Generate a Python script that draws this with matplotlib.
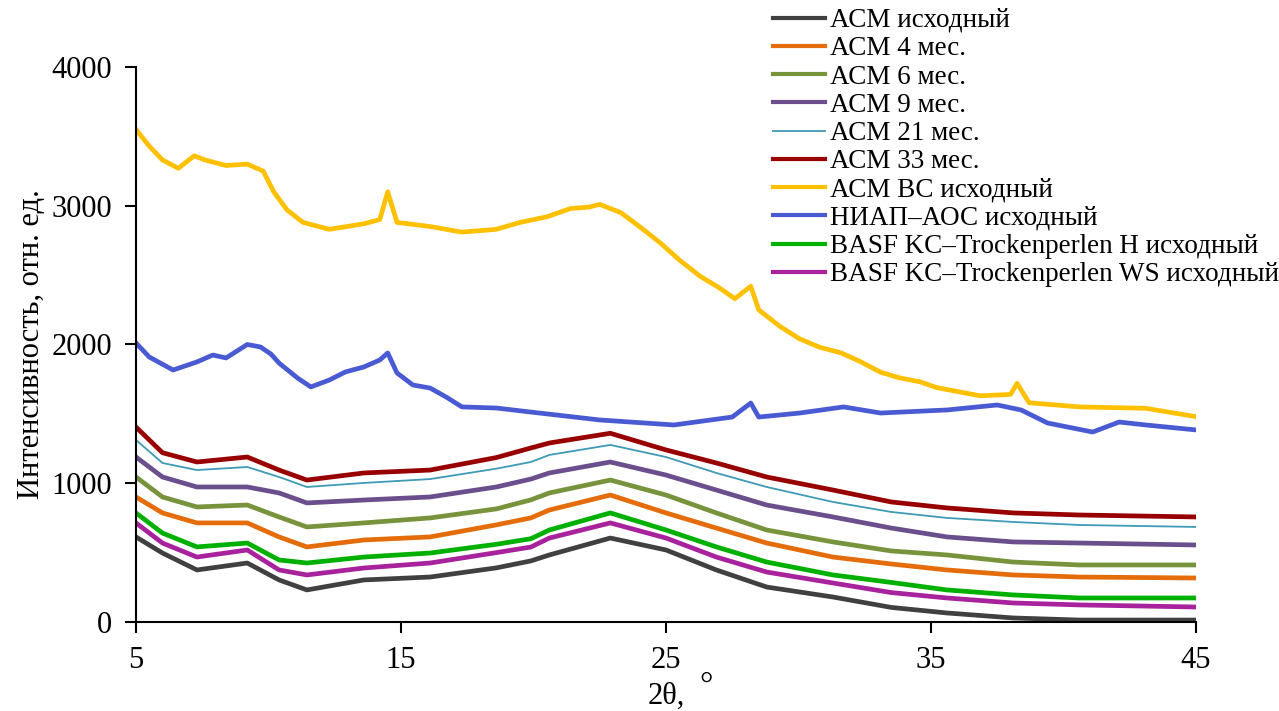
import numpy as np
import matplotlib
matplotlib.use("Agg")
import matplotlib.pyplot as plt

# fonts
plt.rcParams['font.family'] = ['Liberation Serif', 'DejaVu Serif']

# data
# common 2theta grid for the lower series
x_low = [5.0, 6.0, 7.3, 9.2, 10.4, 11.45, 13.6, 16.1, 18.6, 19.9, 20.6,
         22.9, 25.0, 26.9, 28.8, 31.3, 33.5, 35.6, 38.1, 40.6, 45.0]

acm_0 = [613, 497, 375, 425, 303, 231, 303, 324, 390, 440, 483,
         605, 519, 375, 252, 180, 105, 65, 29, 14, 14]
acm_4 = [901, 786, 714, 714, 613, 541, 591, 613, 700, 750, 807,
         915, 786, 677, 569, 468, 418, 375, 339, 324, 317]
acm_6 = [1045, 901, 829, 843, 757, 685, 714, 750, 815, 880, 930,
         1023, 915, 786, 663, 577, 512, 483, 432, 411, 411]
acm_9 = [1189, 1045, 973, 973, 930, 858, 879, 901, 973, 1030, 1074,
         1153, 1059, 951, 843, 757, 677, 613, 577, 569, 555]
acm_21 = [1312, 1146, 1095, 1117, 1045, 973, 1002, 1030, 1105, 1153, 1204,
          1276, 1189, 1074, 973, 865, 793, 750, 721, 699, 685]
acm_33 = [1405, 1220, 1153, 1189, 1095, 1023, 1074, 1095, 1185, 1254, 1290,
          1360, 1240, 1146, 1045, 951, 865, 822, 786, 771, 757]
basf_h = [786, 641, 541, 569, 447, 425, 468, 497, 560, 600, 663,
          786, 663, 541, 432, 339, 285, 231, 195, 173, 173]
basf_ws = [714, 569, 468, 519, 375, 339, 389, 425, 500, 540, 605,
           714, 605, 468, 360, 281, 212, 173, 137, 123, 108]

# ACM BC
x_bc = [5.0, 5.5, 6.0, 6.6, 7.2, 7.6, 8.4, 9.2, 9.8, 10.2, 10.7, 11.3, 12.3,
        13.6, 14.2, 14.5, 14.85, 16.1, 17.3, 18.6, 19.5, 20.5, 21.4, 22.1,
        22.5, 23.3, 24.0, 24.8, 25.5, 26.3, 27.0, 27.6, 28.2, 28.5, 29.3,
        30.05, 30.8, 31.6, 32.3, 33.1, 33.8, 34.6, 35.2, 36.85, 38.0, 38.25,
        38.7, 40.6, 43.1, 45.0]
acm_bc = [3550, 3430, 3330, 3270, 3360, 3330, 3290, 3300, 3250, 3100, 2970,
          2880, 2830, 2870, 2900, 3100, 2880, 2850, 2810, 2830, 2880, 2920,
          2980, 2990, 3010, 2950, 2850, 2730, 2610, 2490, 2410, 2330, 2420,
          2250, 2130, 2040, 1980, 1940, 1880, 1800, 1760, 1730, 1690, 1630,
          1640, 1720, 1580, 1550, 1540, 1480]

# NIAP-AOC
x_niap = [5.0, 5.5, 6.4, 7.3, 7.9, 8.4, 9.2, 9.7, 10.1, 10.4, 11.1, 11.6,
          12.3, 12.9, 13.6, 14.2, 14.5, 14.85, 15.45, 16.1, 16.7, 17.3, 18.6,
          19.9, 22.5, 25.3, 27.5, 28.2, 28.5, 30.05, 31.7, 33.1, 35.6, 37.5,
          38.4, 39.4, 41.1, 42.1, 43.1, 45.0]
niap = [2011, 1910, 1816, 1874, 1924, 1903, 2000, 1982, 1930, 1866, 1758,
        1694, 1744, 1802, 1838, 1888, 1939, 1795, 1708, 1686, 1622, 1550,
        1542, 1513, 1456, 1420, 1477, 1578, 1477, 1506, 1550, 1506, 1528,
        1564, 1528, 1434, 1369, 1441, 1420, 1384]

# series list: (x, y, label, color, width)
series = [
    (x_low, acm_0, 'АСМ исходный', '#404040', 3.4),
    (x_low, acm_4, 'АСМ 4 мес.', '#E46C0A', 3.4),
    (x_low, acm_6, 'АСМ 6 мес.', '#77933C', 3.4),
    (x_low, acm_9, 'АСМ 9 мес.', '#6A4F8C', 3.4),
    (x_low, acm_21, 'АСМ 21 мес.', '#3F9AB5', 1.3),
    (x_low, acm_33, 'АСМ 33 мес.', '#980000', 3.4),
    (x_bc, acm_bc, 'АСМ ВС исходный', '#FFC000', 3.4),
    (x_niap, niap, 'НИАП–АОС исходный', '#4A5AD2', 3.4),
    (x_low, basf_h, 'BASF KC–Trockenperlen H исходный', '#00B000', 3.4),
    (x_low, basf_ws, 'BASF KC–Trockenperlen WS исходный', '#A8229E', 3.4),
]

# figure
fig = plt.figure(figsize=(12.79, 7.11), dpi=100)
ax = fig.add_axes([0.1063, 0.1252, 0.8288, 0.7806])

for x, y, label, color, lw in series:
    ax.plot(x, y, color=color, linewidth=lw, label=label)

# axes and ticks
ax.set_xlim(5, 45)
ax.set_ylim(0, 4000)
ax.set_xticks([5, 15, 25, 35, 45])
ax.set_yticks([0, 1000, 2000, 3000, 4000])
ax.spines['top'].set_visible(False)
ax.spines['right'].set_visible(False)
ax.spines['left'].set_linewidth(1.5)
ax.spines['bottom'].set_linewidth(1.5)
ax.tick_params(direction='out', length=8, width=1.5, labelsize=22, pad=9)

# labels
ax.set_ylabel('Интенсивность, отн. ед.', fontsize=22, labelpad=4)
ax.set_xlabel('2θ,', fontsize=22, labelpad=5)
fig.text(706 / 1279, 1 - 686 / 711, '°', fontsize=24, ha='center', va='center')

# legend
leg = fig.legend(loc='upper left', bbox_to_anchor=(773 / 1279, 1 - 8 / 711),
                 frameon=False, fontsize=19.5, handlelength=1.92,
                 handletextpad=0.18, labelspacing=0.12, borderpad=0,
                 borderaxespad=0)
for h, s in zip(leg.legend_handles, series):
    h.set_linewidth(1.3 if s[4] < 2 else 3)

plt.savefig('out.png', dpi=100)
